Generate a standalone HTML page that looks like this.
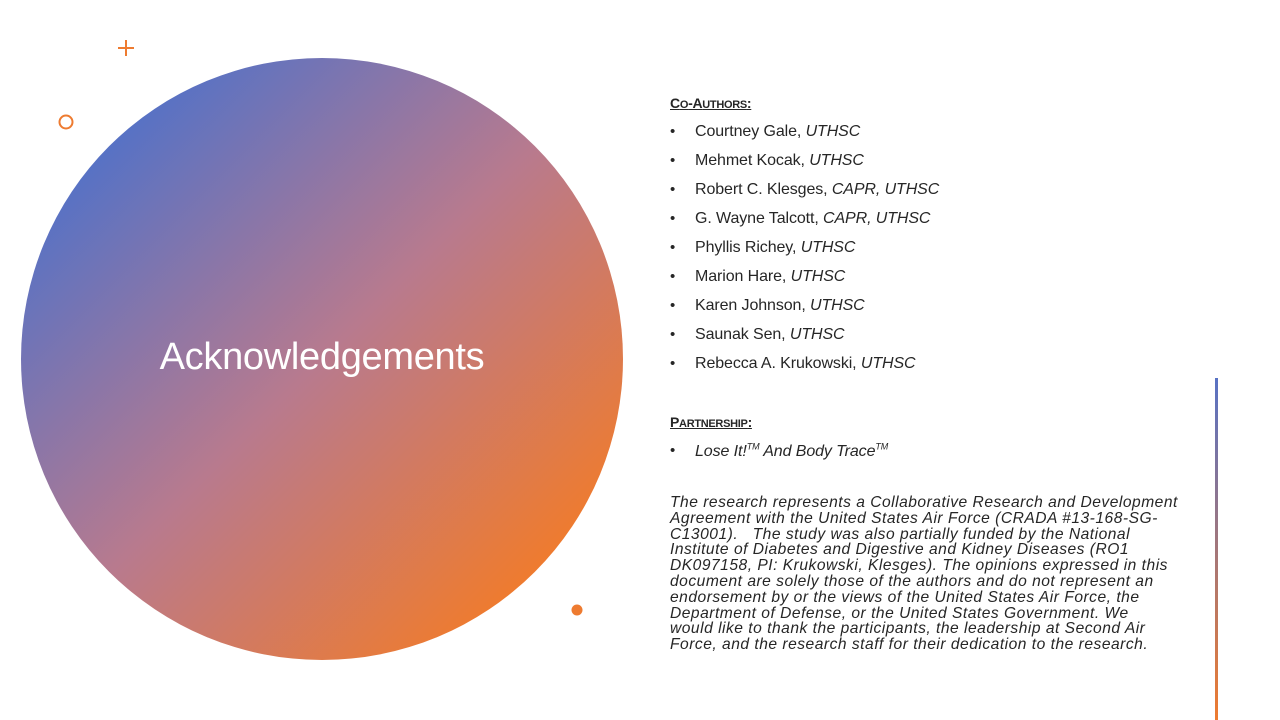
<!DOCTYPE html>
<html><head><meta charset="utf-8"><style>
body{margin:0;width:1280px;height:720px;background:#fff;position:relative;overflow:hidden;font-family:"Liberation Sans",sans-serif;color:#262626}
.abs{position:absolute}
.hd{font-size:14px;font-weight:bold;text-decoration:underline;letter-spacing:-0.3px}
.hd small{font-size:11px}
ul{margin:0;padding:0;list-style:none}
li{position:absolute;left:670px;font-size:16px;white-space:nowrap;letter-spacing:-0.1px}
li::before{content:"•";position:absolute;left:0;font-size:15px;top:0px}
li span{margin-left:25px}
.para{left:670px;top:495px;font-size:15.6px;font-style:italic;line-height:15.8px;white-space:nowrap;letter-spacing:0.5px}
</style></head><body>
<svg class="abs" style="left:0;top:0" width="1280" height="720">
<defs>
<linearGradient id="g" x1="0.15" y1="0.15" x2="0.85" y2="0.85"><stop offset="0" stop-color="#5872c4"/><stop offset="0.5" stop-color="#b87a8e"/><stop offset="1" stop-color="#ee7b30"/></linearGradient>
<linearGradient id="v" x1="0" y1="0" x2="0" y2="1"><stop offset="0" stop-color="#5872c4"/><stop offset="1" stop-color="#ee7b30"/></linearGradient>
</defs>
<circle cx="322" cy="359" r="301" fill="url(#g)"/>
<path d="M118 48h16M126 40v16" stroke="#ee7b30" stroke-width="2"/>
<circle cx="66" cy="122" r="6.5" fill="none" stroke="#ee7b30" stroke-width="2"/>
<circle cx="577" cy="610" r="5.5" fill="#ee7b30"/>
<rect x="1215" y="378" width="3" height="342" fill="url(#v)"/>
</svg>
<div class="abs" style="left:21px;width:602px;top:336px;text-align:center;color:#fff;font-size:38px;letter-spacing:-0.3px">Acknowledgements</div>
<div class="abs hd" style="left:670px;top:95px">C<small>O</small>-A<small>UTHORS</small>:</div>
<ul>
<li style="top:123px"><span>Courtney Gale, <i>UTHSC</i></span></li>
<li style="top:152px"><span>Mehmet Kocak, <i>UTHSC</i></span></li>
<li style="top:181px"><span>Robert C. Klesges, <i>CAPR, UTHSC</i></span></li>
<li style="top:210px"><span>G. Wayne Talcott, <i>CAPR, UTHSC</i></span></li>
<li style="top:239px"><span>Phyllis Richey, <i>UTHSC</i></span></li>
<li style="top:268px"><span>Marion Hare, <i>UTHSC</i></span></li>
<li style="top:297px"><span>Karen Johnson, <i>UTHSC</i></span></li>
<li style="top:326px"><span>Saunak Sen, <i>UTHSC</i></span></li>
<li style="top:355px"><span>Rebecca A. Krukowski, <i>UTHSC</i></span></li>
</ul>
<div class="abs hd" style="left:670px;top:414px">P<small>ARTNERSHIP</small>:</div>
<ul>
<li style="top:442px"><span><i>Lose It!<sup style="font-size:9px">TM</sup> And Body Trace<sup style="font-size:9px">TM</sup></i></span></li>
</ul>
<div class="abs para">The research represents a Collaborative Research and Development<br>Agreement with the United States Air Force (CRADA #13-168-SG-<br>C13001).&nbsp;&nbsp; The study was also partially funded by the National<br>Institute of Diabetes and Digestive and Kidney Diseases (RO1<br>DK097158, PI: Krukowski, Klesges). The opinions expressed in this<br>document are solely those of the authors and do not represent an<br>endorsement by or the views of the United States Air Force, the<br>Department of Defense, or the United States Government. We<br>would like to thank the participants, the leadership at Second Air<br>Force, and the research staff for their dedication to the research.</div>
</body></html>
